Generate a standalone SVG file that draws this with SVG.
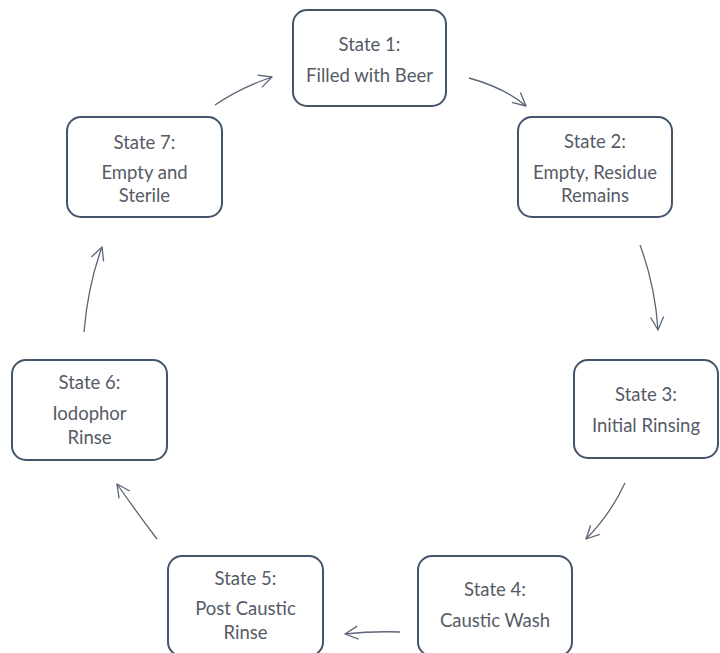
<svg xmlns="http://www.w3.org/2000/svg" width="720" height="653" viewBox="0 0 720 653">
<style>
.node{fill:#ffffff;stroke:#44546a;stroke-width:2}
.t{font-family:Lato,"Liberation Sans",sans-serif;font-size:18.5px;fill:#555b66;text-anchor:middle;dominant-baseline:central}
.arr{fill:none;stroke:#5b6577;stroke-width:1.3;marker-end:url(#ah)}
</style>
<defs>
<marker id="ah" markerUnits="userSpaceOnUse" markerWidth="20" markerHeight="20" viewBox="-14 -10 20 20" refX="0" refY="0" orient="auto">
<path d="M-13,-6.5 L0,0 L-13,6.5" fill="none" stroke="#5b6577" stroke-width="1.3" stroke-linejoin="round"/>
</marker>
</defs>
<rect width="720" height="653" fill="#ffffff"/>
<g id="connectors">
<path class="arr" d="M215,105 Q240,88 272,77"/>
<path class="arr" d="M469,78 Q505,88 526,106"/>
<path class="arr" d="M640,245 Q655,285 658,330"/>
<path class="arr" d="M625,483 Q610,515 586,539"/>
<path class="arr" d="M400,632 Q372,631 345,634"/>
<path class="arr" d="M157,539 Q135,510 117,484"/>
<path class="arr" d="M84,332 Q88,285 102,247"/>
</g>
<g id="state1">
<rect class="node" x="293" y="10" width="153" height="96" rx="14"/>
<text class="t" x="369.5" y="44">State 1:</text>
<text class="t" x="369.5" y="75">Filled with Beer</text>
</g>
<g id="state2">
<rect class="node" x="518" y="117" width="154" height="100" rx="14"/>
<text class="t" x="595" y="141">State 2:</text>
<text class="t" x="595" y="172">Empty, Residue</text>
<text class="t" x="595" y="195">Remains</text>
</g>
<g id="state3">
<rect class="node" x="574" y="360" width="144" height="98" rx="14"/>
<text class="t" x="646" y="394">State 3:</text>
<text class="t" x="646" y="425">Initial Rinsing</text>
</g>
<g id="state4">
<rect class="node" x="418" y="556" width="154" height="100" rx="14"/>
<text class="t" x="495" y="589">State 4:</text>
<text class="t" x="495" y="620">Caustic Wash</text>
</g>
<g id="state5">
<rect class="node" x="168" y="556" width="155" height="100" rx="14"/>
<text class="t" x="245.5" y="578">State 5:</text>
<text class="t" x="245.5" y="608">Post Caustic</text>
<text class="t" x="245.5" y="632">Rinse</text>
</g>
<g id="state6">
<rect class="node" x="12" y="360" width="155" height="100" rx="14"/>
<text class="t" x="89.5" y="382">State 6:</text>
<text class="t" x="89.5" y="413">Iodophor</text>
<text class="t" x="89.5" y="437">Rinse</text>
</g>
<g id="state7">
<rect class="node" x="67" y="117" width="155" height="100" rx="14"/>
<text class="t" x="144.5" y="142">State 7:</text>
<text class="t" x="144.5" y="172">Empty and</text>
<text class="t" x="144.5" y="195">Sterile</text>
</g>
</svg>
